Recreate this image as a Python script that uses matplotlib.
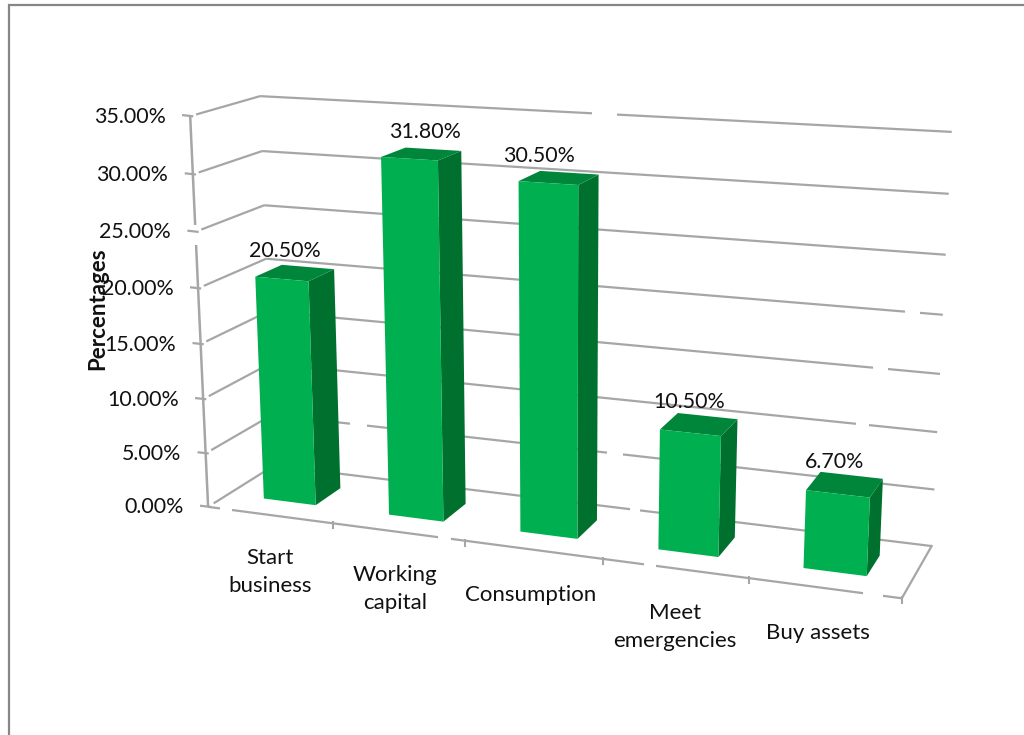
import numpy as np
import matplotlib
matplotlib.use("Agg")
import matplotlib.pyplot as plt
from matplotlib.patches import Polygon

categories = ["Start\nbusiness", "Working\ncapital", "Consumption", "Meet\nemergencies", "Buy assets"]
values = [20.5, 31.8, 30.5, 10.5, 6.7]
value_ticks = [0, 5, 10, 15, 20, 25, 30, 35]
y_title = "Percentages"

GRID = "#a6a6a6"
FRONT, SIDE, TOP = "#00b050", "#00702f", "#00863a"
TEXT = "#111111"
plt.rcParams["font.family"] = ["Lato", "DejaVu Sans"]

# small nudges of the labels (style only)
label_dx = [-10, 4, -20, -10, -10]
cat_dx = [0, -3, -2, 0, -6]
cat_dy = [2, 2, 4, 4, 4]
# broken stretches of the rules, as pixel x ranges
wall_gaps = {35: [(592, 617)], 20: [(905, 920)], 15: [(873, 888)], 10: [(856, 869)],
             5: [(350, 367), (607, 623)], 0: [(630, 640)]}
front_gaps = [(220, 232), (438, 451), (644, 656), (863, 883)]

# calibration of the oblique 3D view: (category pos, value, depth) -> pixel
calib = [
    ((0, 0, 0), (209, 507)), ((0, 35, 0), (191, 115)), ((0, 35, 1), (260, 97)),
    ((5, 35, 1), (952, 133)), ((5, 0, 1), (932, 544)), ((5, 0, 0), (902, 597)),
    ((0, 30, 1), (260, 152)), ((0, 20, 1), (267, 258)), ((1, 0, 0), (333, 525)),
    ((2, 0, 0), (464, 542)), ((4, 0, 0), (747, 580)), ((5, 10, 1), (938, 432)),
    ((0, 20, 0), (198, 287)), ((0, 10, 0), (204, 398)),
]
A, b = [], []
for (X, Y, Z), (u, v) in calib:
    A.append([X, Y, Z, 1, 0, 0, 0, 0, -u * X, -u * Y, -u * Z]); b.append(u)
    A.append([0, 0, 0, 0, X, Y, Z, 1, -v * X, -v * Y, -v * Z]); b.append(v)
p = np.linalg.lstsq(np.array(A, float), np.array(b, float), rcond=None)[0]
P = np.append(p, 1.0).reshape(3, 4)


def proj(x, y, z):
    h = P @ np.array([x, y, z, 1.0])
    return h[0] / h[2], h[1] / h[2]


fig = plt.figure(figsize=(10.24, 7.35), dpi=100)
ax = fig.add_axes([0, 0, 1, 1])
ax.set_xlim(0, 1024)
ax.set_ylim(735, 0)
ax.axis("off")

# outer chart border (only left and top fall inside the picture)
ax.plot([9, 9, 1024], [735, 5, 5], color="#868686", lw=1.6, solid_joinstyle="miter")


def seg(a, b, gaps=(), lw=1.6, z=1):
    (x1, y1), (x2, y2) = proj(*a), proj(*b)
    start = x1
    at = lambda x: y1 + (y2 - y1) * (x - x1) / (x2 - x1)
    for g0, g1 in sorted(gaps):
        ax.plot([start, g0], [at(start), at(g0)], color=GRID, lw=lw, zorder=z, solid_capstyle="butt")
        start = g1
    ax.plot([start, x2], [at(start), at(x2)], color=GRID, lw=lw, zorder=z, solid_capstyle="butt")


n = len(categories)
for t in value_ticks:
    seg((0, t, 0.08), (0, t, 1))
    seg((0, t, 1), (n, t, 1), wall_gaps.get(t, ()))
    x0, y0 = proj(0, t, 0)
    ax.plot([x0 - 7, x0 + 2], [y0 - 1, y0], color=GRID, lw=1.6, zorder=1)
    ax.text(x0 - 24.5, y0 + 0.5, f"{t:.2f}%", ha="right", va="center", fontsize=15.4, color=TEXT)

# value axis, broken just below the 25% tick
xa0, ya0 = proj(0, 0, 0)
xa1, ya1 = proj(0, 35, 0)
for v0, v1 in [(245, ya0), (ya1, 225)]:
    xs = [xa0 + (xa1 - xa0) * (q - ya0) / (ya1 - ya0) for q in (v0, v1)]
    ax.plot(xs, [v0, v1], color=GRID, lw=1.8, zorder=1, solid_capstyle="butt")
seg((0, 0, 0), (n, 0, 0), front_gaps)
fx0, fy0 = proj(n, 0, 0)
fx1, fy1 = proj(n, 0, 1)
ax.plot([fx0, fx1], [fy0, fy1], color=GRID, lw=1.6, zorder=1)
for k in range(1, n + 1):
    xt, yt = proj(k, 0, 0)
    ax.plot([xt, xt], [yt - 1, yt + 5], color=GRID, lw=1.5, zorder=1)

BAR_W = 0.42
Z0, Z1 = 0.3, 0.7
for i, (c, v) in enumerate(zip(categories, values)):
    xa, xb = i + 0.5 - BAR_W / 2, i + 0.5 + BAR_W / 2
    front = [proj(xa, 0, Z0), proj(xb, 0, Z0), proj(xb, v, Z0), proj(xa, v, Z0)]
    side = [proj(xb, 0, Z0), proj(xb, 0, Z1), proj(xb, v, Z1), proj(xb, v, Z0)]
    top = [proj(xa, v, Z0), proj(xb, v, Z0), proj(xb, v, Z1), proj(xa, v, Z1)]
    zo = 3 + i * 0.1
    ax.add_patch(Polygon(side, closed=True, fc=SIDE, ec="none", zorder=zo))
    ax.add_patch(Polygon(top, closed=True, fc=TOP, ec="none", zorder=zo))
    ax.add_patch(Polygon(front, closed=True, fc=FRONT, ec="none", zorder=zo))
    lx, ly = proj(i + 0.5, v, 0.5)
    ax.text(lx + label_dx[i], ly - 22, f"{v:.2f}%", ha="center", va="center", fontsize=15.4, color=TEXT, zorder=6)
    mx, my = proj(i + 0.5, 0, 0)
    ax.text(mx + cat_dx[i], my + cat_dy[i] + 27 + 14 * (c.count("\n") + 1), c, ha="center", va="center",
            fontsize=16, color=TEXT, linespacing=1.5, zorder=6)

ax.text(98, 309, y_title, rotation=90, ha="center", va="center", fontsize=16,
        fontweight="bold", color=TEXT, zorder=7)

fig.savefig("out.png", dpi=100, facecolor="white")
